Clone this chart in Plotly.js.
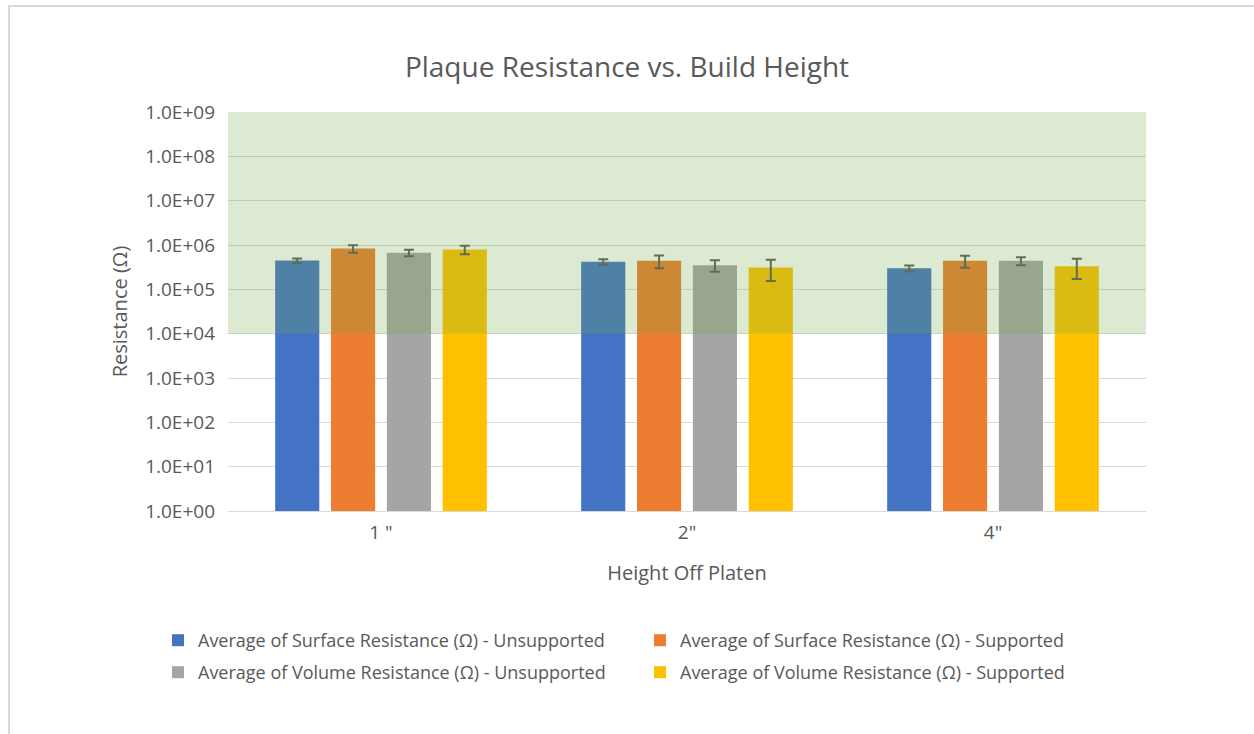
<!DOCTYPE html>
<html>
<head>
<meta charset="utf-8">
<script src="https://cdn.plot.ly/plotly-3.0.1.min.js"></script>
<style>
html,body{margin:0;padding:0;background:#fff;overflow:hidden;}
#chart{width:1254px;height:734px;}
#frame{position:absolute;left:8px;top:5px;width:1260px;height:740px;border:2px solid #d9d9d9;pointer-events:none;box-sizing:border-box;}
</style>
</head>
<body>
<div id="chart"></div>
<div id="frame"></div>
<script>
const categories = ['1 "', '2"', '4"'];
const seriesNames = [
  'Average of Surface Resistance (\u03A9) - Unsupported',
  'Average of Surface Resistance (\u03A9) - Supported',
  'Average of Volume Resistance (\u03A9) - Unsupported',
  'Average of Volume Resistance (\u03A9) - Supported'
];
const surfaceUnsupported = [445000, 420000, 300000];
const surfaceSupported = [830000, 440000, 440000];
const volumeUnsupported = [670000, 350000, 440000];
const volumeSupported = [790000, 310000, 330000];
const surfaceUnsupportedErr = [50000, 60000, 45000];
const surfaceSupportedErr = [160000, 140000, 135000];
const volumeUnsupportedErr = [110000, 100000, 90000];
const volumeSupportedErr = [170000, 155000, 160000];
const tickValues = [1, 10, 100, 1000, 10000, 100000, 1000000, 10000000, 100000000, 1000000000];
const tickLabels = ['1.0E+00','1.0E+01','1.0E+02','1.0E+03','1.0E+04','1.0E+05','1.0E+06','1.0E+07','1.0E+08','1.0E+09'];

const colors = ['#4472C4', '#ED7D31', '#A5A5A5', '#FFC000'];
const values = [surfaceUnsupported, surfaceSupported, volumeUnsupported, volumeSupported];
const errs = [surfaceUnsupportedErr, surfaceSupportedErr, volumeUnsupportedErr, volumeSupportedErr];
const legendOf = ['legend', 'legend2', 'legend3', 'legend4'];
const FONT = 'Open Sans, sans-serif';
const TXT = '#595959';

const traces = values.map((v, i) => ({
  type: 'bar',
  name: seriesNames[i],
  x: categories,
  y: v,
  legend: legendOf[i],
  marker: {color: colors[i]},
  error_y: {type: 'data', array: errs[i], visible: true, color: '#595959', thickness: 2, width: 5}
}));

const legendBase = {
  orientation: 'h',
  xref: 'container', yref: 'container',
  xanchor: 'left', yanchor: 'top',
  font: {family: FONT, size: 18, color: TXT},
  itemwidth: 30,
  bgcolor: 'rgba(0,0,0,0)'
};

const layout = {
  width: 1254,
  height: 734,
  margin: {l: 228, r: 108, t: 112, b: 223},
  paper_bgcolor: '#ffffff',
  plot_bgcolor: '#ffffff',
  barmode: 'group',
  bargap: 0.27,
  bargroupgap: 0.21,
  font: {family: FONT, color: TXT, size: 18},
  title: {text: 'Plaque Resistance vs. Build Height', font: {family: FONT, size: 28, color: TXT}, x: 0.5, xanchor: 'center', y: 1 - 67/734, yanchor: 'middle'},
  xaxis: {
    type: 'category',
    showgrid: false,
    showline: true,
    linecolor: '#d9d9d9',
    linewidth: 1,
    ticks: '',
    ticklabelstandoff: 4,
    tickfont: {family: FONT, size: 19, color: TXT},
    title: {text: 'Height Off Platen', font: {family: FONT, size: 20, color: TXT}, standoff: 22}
  },
  yaxis: {
    type: 'log',
    range: [0, 9],
    tickvals: tickValues,
    ticktext: tickLabels,
    showgrid: true,
    gridcolor: '#d9d9d9',
    gridwidth: 1,
    zeroline: false,
    showline: false,
    ticks: '',
    ticklabelstandoff: 12,
    tickfont: {family: FONT, size: 19, color: TXT},
    title: {text: 'Resistance (\u03A9)', font: {family: FONT, size: 20, color: TXT}, standoff: 12}
  },
  shapes: [{
    type: 'rect', xref: 'paper', yref: 'y', x0: 0, x1: 1, y0: 10000, y1: 1000000000,
    fillcolor: 'rgba(112,173,71,0.25)', line: {width: 0}, layer: 'above'
  }],
  showlegend: true,
  legend: Object.assign({}, legendBase, {x: 158/1254, y: 1 - 622/734}),
  legend2: Object.assign({}, legendBase, {x: 640/1254, y: 1 - 622/734}),
  legend3: Object.assign({}, legendBase, {x: 158/1254, y: 1 - 654/734}),
  legend4: Object.assign({}, legendBase, {x: 640/1254, y: 1 - 654/734})
};

Plotly.newPlot('chart', traces, layout, {displayModeBar: false, staticPlot: true});
</script>
</body>
</html>
